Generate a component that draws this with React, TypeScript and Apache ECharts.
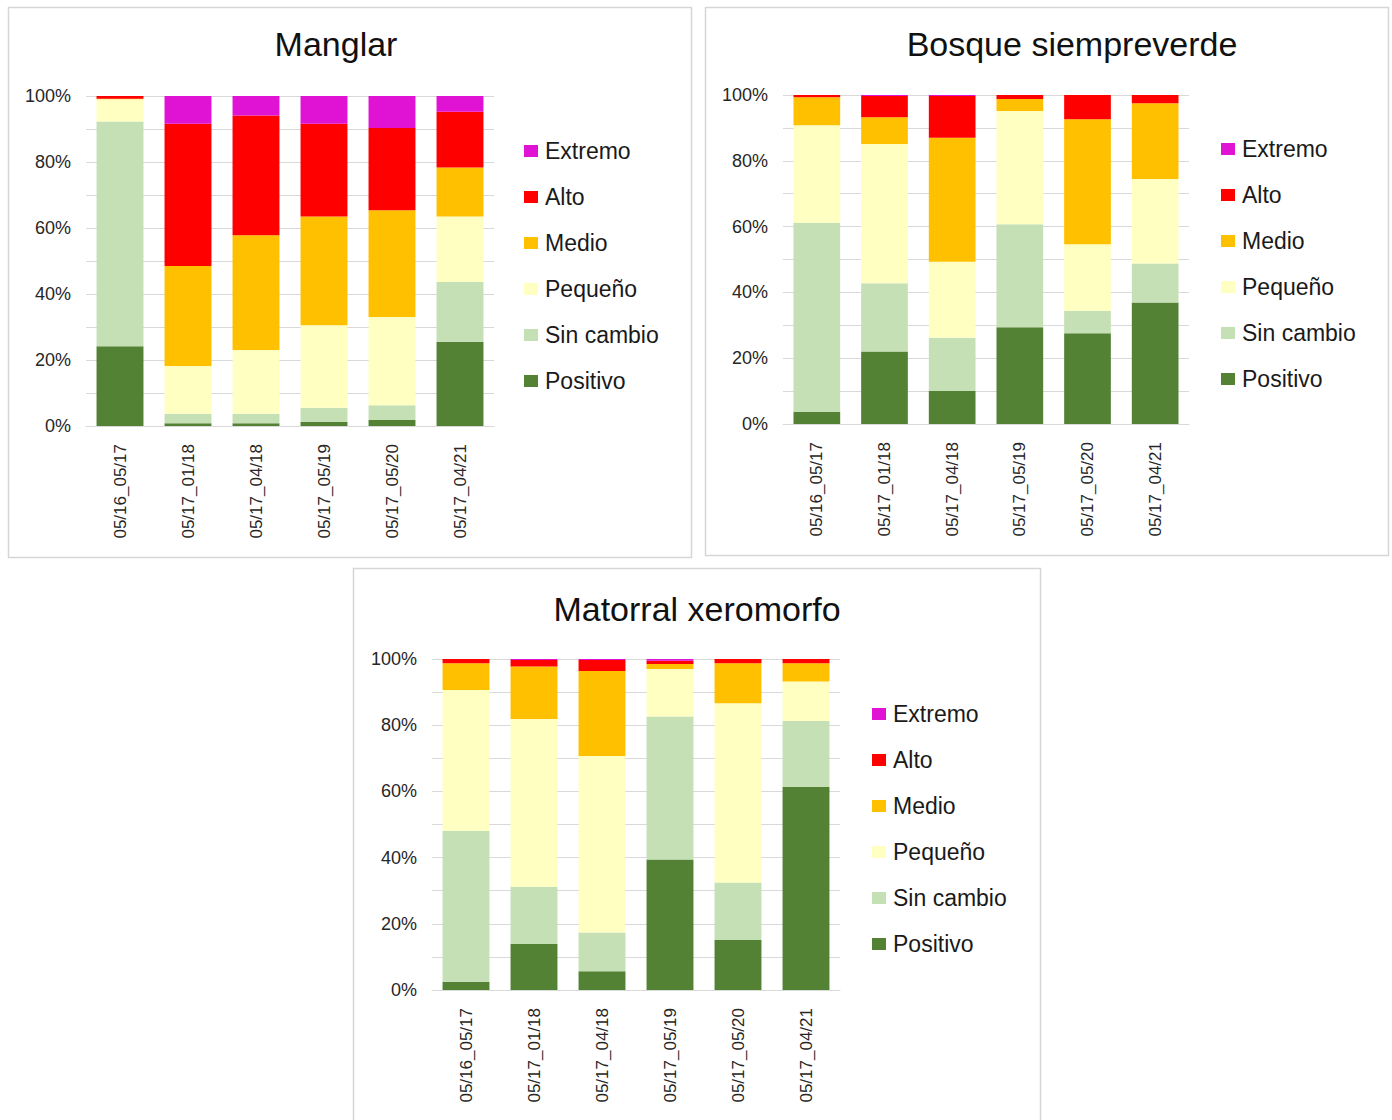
import React, { useEffect, useRef } from "react";
import * as echarts from "echarts";

const categories = ["05/16_05/17", "05/17_01/18", "05/17_04/18", "05/17_05/19", "05/17_05/20", "05/17_04/21"];
const seriesNames = ["Positivo", "Sin cambio", "Pequeño", "Medio", "Alto", "Extremo"];
const legendOrder = ["Extremo", "Alto", "Medio", "Pequeño", "Sin cambio", "Positivo"];
const colors = ["#548235", "#C5E0B4", "#FFFFC2", "#FFC000", "#FF0000", "#E012D4"];
const yTicks = [0, 20, 40, 60, 80, 100];

// Manglar
const manglarPositivo = [24.2, 0.8, 0.8, 1.2, 1.8, 25.5];
const manglarSinCambio = [68.1, 2.9, 2.9, 4.3, 4.5, 18.1];
const manglarPequeno = [6.7, 14.5, 19.3, 25.0, 26.7, 19.9];
const manglarMedio = [0.2, 30.3, 34.8, 33.0, 32.4, 14.8];
const manglarAlto = [0.8, 43.1, 36.3, 28.1, 24.9, 16.9];
const manglarExtremo = [0, 8.4, 5.9, 8.4, 9.7, 4.8];

// Bosque siempreverde
const bosquePositivo = [3.7, 22.0, 10.0, 29.4, 27.6, 36.9];
const bosqueSinCambio = [57.5, 20.8, 16.2, 31.3, 6.8, 11.9];
const bosquePequeno = [29.6, 42.3, 23.1, 34.4, 20.2, 25.7];
const bosqueMedio = [8.5, 8.1, 37.7, 3.7, 38.0, 23.0];
const bosqueAlto = [0.7, 6.5, 12.7, 1.2, 7.4, 2.5];
const bosqueExtremo = [0, 0.3, 0.3, 0, 0, 0];

// Matorral xeromorfo
const matorralPositivo = [2.5, 13.9, 5.7, 39.4, 15.1, 61.4];
const matorralSinCambio = [45.6, 17.3, 11.7, 43.2, 17.4, 19.9];
const matorralPequeno = [42.5, 50.7, 53.3, 14.4, 54.1, 11.9];
const matorralMedio = [8.1, 15.8, 25.7, 1.5, 12.1, 5.5];
const matorralAlto = [1.3, 2.0, 3.3, 1.0, 1.3, 1.3];
const matorralExtremo = [0, 0.3, 0.3, 0.5, 0, 0];

const panels = [
  {
    title: "Manglar",
    data: [manglarPositivo, manglarSinCambio, manglarPequeno, manglarMedio, manglarAlto, manglarExtremo],
    grid: { left: 86, top: 96, width: 408, height: 330 },
    titlePos: [336, 44],
    legendPos: [519, 134],
    box: [8.5, 7.5, 683, 550],
  },
  {
    title: "Bosque siempreverde",
    data: [bosquePositivo, bosqueSinCambio, bosquePequeno, bosqueMedio, bosqueAlto, bosqueExtremo],
    grid: { left: 783, top: 95, width: 406, height: 329 },
    titlePos: [1072, 44],
    legendPos: [1216, 132],
    box: [705.5, 7.5, 683, 548],
  },
  {
    title: "Matorral xeromorfo",
    data: [matorralPositivo, matorralSinCambio, matorralPequeno, matorralMedio, matorralAlto, matorralExtremo],
    grid: { left: 432, top: 659, width: 408, height: 331 },
    titlePos: [697, 609],
    legendPos: [867, 697],
    box: [353.5, 568.5, 687, 570],
  },
];

const FONT = "'Liberation Sans', Arial, sans-serif";

export default function App() {
  const ref = useRef<HTMLDivElement>(null);

  useEffect(() => {
    if (!ref.current) return;
    const chart = echarts.init(ref.current, null, { renderer: "svg" });

    const grids: any[] = [];
    const xAxes: any[] = [];
    const yAxes: any[] = [];
    const series: any[] = [];
    const legends: any[] = [];
    const graphics: any[] = [];

    panels.forEach((p, i) => {
      grids.push({ ...p.grid, containLabel: false });
      xAxes.push({
        type: "category",
        gridIndex: i,
        data: categories,
        axisLine: { show: true, lineStyle: { color: "#d9d9d9", width: 1 } },
        axisTick: { show: false },
        axisLabel: {
          rotate: 90,
          margin: 18,
          fontSize: 17,
          color: "#262626",
          fontFamily: FONT,
        },
      });
      yAxes.push({
        type: "value",
        gridIndex: i,
        min: 0,
        max: 100,
        interval: 10,
        axisLine: { show: false },
        axisTick: { show: false },
        splitLine: { show: true, lineStyle: { color: "#d9d9d9", width: 1 } },
        axisLabel: {
          margin: 15,
          fontSize: 18,
          color: "#262626",
          fontFamily: FONT,
          formatter: (v: number) => (yTicks.indexOf(v) >= 0 ? v + "%" : ""),
        },
      });
      seriesNames.forEach((name, s) => {
        series.push({
          type: "bar",
          name,
          xAxisIndex: i,
          yAxisIndex: i,
          stack: "s" + i,
          barWidth: "69%",
          itemStyle: { color: colors[s] },
          data: p.data[s],
        });
      });
      legends.push({
        orient: "vertical",
        left: p.legendPos[0],
        top: p.legendPos[1],
        data: legendOrder,
        itemWidth: 14,
        itemHeight: 12,
        itemGap: 22,
        icon: "rect",
        selectedMode: false,
        textStyle: {
          fontSize: 23,
          lineHeight: 24,
          color: "#1a1a1a",
          fontFamily: FONT,
          padding: [0, 0, 0, 2],
        },
      });
      graphics.push({
        type: "rect",
        shape: { x: p.box[0], y: p.box[1], width: p.box[2], height: p.box[3] },
        style: { fill: "none", stroke: "#d6d6d6", lineWidth: 1.5 },
        silent: true,
        z: -1,
      });
      graphics.push({
        type: "text",
        x: p.titlePos[0],
        y: p.titlePos[1],
        style: {
          text: p.title,
          fontSize: 34,
          fontFamily: FONT,
          fill: "#111",
          textAlign: "center",
          textVerticalAlign: "middle",
        },
      });
    });

    chart.setOption({
      animation: false,
      backgroundColor: "#ffffff",
      grid: grids,
      xAxis: xAxes,
      yAxis: yAxes,
      series,
      legend: legends,
      graphic: graphics,
    });

    return () => chart.dispose();
  }, []);

  return (
    <div
      ref={ref}
      style={{ position: "absolute", left: 0, top: 0, width: 1392, height: 1120, background: "#fff" }}
    />
  );
}
